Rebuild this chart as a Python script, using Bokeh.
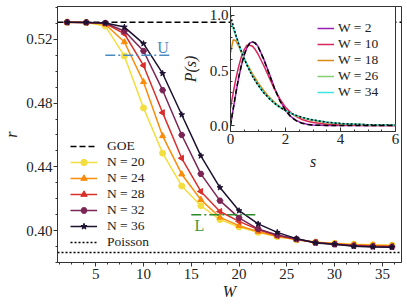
import math
from bokeh.plotting import figure
from bokeh.models import Legend, LegendItem, FixedTicker, Range1d, Label, PrintfTickFormatter
from bokeh.layouts import column
from bokeh.embed import file_html
from bokeh.resources import INLINE

FONT = "Liberation Serif, DejaVu Serif, serif"

# ---------------- main panel data ----------------
W = [2, 4, 6, 8, 10, 12, 14, 16, 18, 20, 22, 24, 26, 28, 30, 32, 34, 36]
r_N20 = [0.5307, 0.5305, 0.5283, 0.5096, 0.4770, 0.4486, 0.4280, 0.4156, 0.4069, 0.4023,
         0.3989, 0.3962, 0.3942, 0.3928, 0.3920, 0.3915, 0.3911, 0.3908]
r_N24 = [0.5307, 0.5305, 0.5295, 0.5183, 0.4933, 0.4594, 0.4354, 0.4194, 0.4083, 0.4031,
         0.3993, 0.3965, 0.3944, 0.3927, 0.3918, 0.3912, 0.3908, 0.3905]
r_N28 = [0.5307, 0.5305, 0.5300, 0.5235, 0.5036, 0.4740, 0.4454, 0.4246, 0.4120, 0.4058,
         0.4006, 0.3969, 0.3945, 0.3926, 0.3916, 0.3908, 0.3904, 0.3901]
r_N32 = [0.5307, 0.5306, 0.5302, 0.5252, 0.5127, 0.4881, 0.4600, 0.4356, 0.4188, 0.4080,
         0.4010, 0.3972, 0.3947, 0.3925, 0.3914, 0.3905, 0.3901, 0.3898]
r_N36 = [0.5307, 0.5306, 0.5303, 0.5277, 0.5173, 0.4986, 0.4727, 0.4469, 0.4270, 0.4125,
         0.4042, 0.3989, 0.3950, 0.3923, 0.3914, 0.3902, 0.3898, 0.3896]
N_labels = ["N = 20", "N = 24", "N = 28", "N = 32", "N = 36"]
N_colors = ["#f3de40", "#f98c0a", "#d8302c", "#7b2456", "#1c1130"]

GOE_R = 0.5307
POISSON_R = 0.3863
U_W = [6, 13]
U_R = 0.51
L_W = [15, 22]
L_R = 0.41

x_ticks = [5, 10, 15, 20, 25, 30, 35]
y_ticks = [0.40, 0.44, 0.48, 0.52]

# ---------------- inset data ----------------
s = [0, 0.1, 0.2, 0.3, 0.4, 0.5, 0.6, 0.7, 0.8, 0.9, 1.0, 1.2, 1.4, 1.6, 1.8, 2.0,
     2.2, 2.4, 2.6, 2.8, 3.0, 3.5, 4.0, 5.0, 6.0]
P_W2 = [0.0, 0.15, 0.30, 0.44, 0.55, 0.64, 0.71, 0.75, 0.76, 0.75, 0.72, 0.61, 0.48, 0.34,
        0.23, 0.14, 0.08, 0.045, 0.022, 0.011, 0.005, 0.001, 0.0, 0.0, 0.0]
P_W10 = [0.16, 0.30, 0.43, 0.54, 0.63, 0.69, 0.73, 0.73, 0.72, 0.69, 0.65, 0.55, 0.44, 0.33,
         0.24, 0.165, 0.115, 0.08, 0.055, 0.038, 0.027, 0.011, 0.005, 0.001, 0.0003]
P_W18 = [0.66, 0.78, 0.77, 0.72, 0.66, 0.61, 0.56, 0.515, 0.47, 0.43, 0.39, 0.32, 0.26, 0.21,
         0.17, 0.135, 0.108, 0.087, 0.07, 0.056, 0.045, 0.026, 0.015, 0.005, 0.0015]
P_W26 = [0.93, 0.88, 0.81, 0.74, 0.67, 0.61, 0.55, 0.50, 0.45, 0.41, 0.37, 0.30, 0.25, 0.20,
         0.165, 0.135, 0.11, 0.09, 0.074, 0.06, 0.049, 0.03, 0.018, 0.006, 0.002]
P_W34 = [0.96, 0.89, 0.815, 0.74, 0.67, 0.605, 0.55, 0.495, 0.45, 0.405, 0.368, 0.30, 0.247,
         0.202, 0.165, 0.135, 0.11, 0.09, 0.074, 0.061, 0.05, 0.03, 0.018, 0.0067, 0.0025]
P_GOE = [0.0, 0.1558, 0.3045, 0.4390, 0.5541, 0.6454, 0.7104, 0.7484, 0.7601, 0.7483, 0.7161,
         0.6083, 0.4717, 0.3366, 0.2219, 0.1358, 0.0772, 0.0409, 0.0202, 0.0093, 0.0040,
         0.0004, 0.0, 0.0, 0.0]
P_POI = [1.0, 0.905, 0.819, 0.741, 0.670, 0.607, 0.549, 0.497, 0.449, 0.407, 0.368, 0.301,
         0.247, 0.202, 0.165, 0.135, 0.111, 0.091, 0.074, 0.061, 0.050, 0.030, 0.018,
         0.0067, 0.0025]
W_labels = ["W = 2", "W = 10", "W = 18", "W = 26", "W = 34"]
W_colors = ["#9b1fb3", "#d8265c", "#d88a17", "#86cf72", "#3fe3e0"]

# ---------------- main figure ----------------
BL, BR = 57, 6          # left/right borders shared by both figures (column aligns them)
XMIN, XMAX = 1, 37
p = figure(width=407, height=307, x_range=Range1d(XMIN, XMAX), y_range=Range1d(0.38, 0.5406),
           output_backend="svg", toolbar_location=None,
           min_border_left=BL, min_border_right=BR, min_border_top=6, min_border_bottom=45)
p.xgrid.visible = False
p.ygrid.visible = False
p.outline_line_color = "#333333"
p.background_fill_color = "white"

for ax in (p.xaxis[0], p.yaxis[0]):
    ax.axis_line_color = "#333333"
    ax.major_tick_line_color = "#333333"
    ax.minor_tick_line_color = "#333333"
    ax.major_tick_in = 0
    ax.major_tick_out = 4
    ax.minor_tick_in = 0
    ax.minor_tick_out = 2
    ax.major_label_text_font = FONT
    ax.major_label_text_font_size = "15px"
    ax.major_label_text_color = "#222222"
    ax.axis_label_text_font = FONT
    ax.axis_label_text_font_size = "16px"
    ax.axis_label_text_font_style = "italic"
    ax.axis_label_text_color = "#222222"

p.xaxis.ticker = FixedTicker(ticks=x_ticks, minor_ticks=[1.25 * k for k in range(1, 30)])
p.yaxis.ticker = FixedTicker(ticks=y_ticks, minor_ticks=[0.38 + 0.01 * k for k in range(0, 17)])
p.yaxis.formatter = PrintfTickFormatter(format="%.2f")
p.xaxis.axis_label = "W"
p.yaxis.axis_label = "r"
p.xaxis.major_label_standoff = 2
p.xaxis.axis_label_standoff = 1
p.yaxis.major_label_standoff = 1
p.yaxis.axis_label_standoff = 3

goe = p.line([XMIN, XMAX], [GOE_R, GOE_R], line_color="black", line_dash="6 3", line_width=1.5)
poi = p.line([XMIN, XMAX], [POISSON_R, POISSON_R], line_color="black", line_dash="2 2", line_width=1.5)

markers = ["circle", "triangle", "triangle", "hex", "star"]
angles = [0, 0, math.pi / 2, 0, 0]
series = [r_N20, r_N24, r_N28, r_N32, r_N36]
items = [LegendItem(label="GOE", renderers=[goe])]
for lab, col, mk, ang, ys in zip(N_labels, N_colors, markers, angles, series):
    ln = p.line(W, ys, line_color=col, line_width=1.5)
    sc = p.scatter(W, ys, marker=mk, angle=ang, size=6, fill_color=col, line_color=col)
    items.append(LegendItem(label=lab, renderers=[ln, sc]))
items.append(LegendItem(label="Poisson", renderers=[poi]))

p.line(U_W, [U_R, U_R], line_color="#4a8cc2", line_dash="10 3 2 3", line_width=1.5)
p.line(L_W, [L_R, L_R], line_color="#2a8a2a", line_dash="10 3 2 3", line_width=1.5)
p.add_layout(Label(x=12.05, y=0.5148, text="U", text_align="center", text_baseline="middle",
                   text_color="#4a8cc2", text_font=FONT, text_font_size="16px"))
p.add_layout(Label(x=15.85, y=0.4031, text="L", text_align="center", text_baseline="middle",
                   text_color="#3a9a3a", text_font=FONT, text_font_size="16px"))

leg = Legend(items=items, location=(13, 12), padding=0, margin=0, spacing=0,
             glyph_width=27, glyph_height=16, label_height=16, label_standoff=10,
             label_text_font=FONT, label_text_font_size="13.5px", label_text_color="#222222",
             border_line_alpha=0, background_fill_alpha=0)
p.add_layout(leg, "center")

# ---------------- inset figure ----------------
ins = figure(width=BL + 165 + BR, height=173, x_range=Range1d(0, 6),
             y_range=Range1d(-0.0545, 1.0818),
             output_backend="svg", toolbar_location=None,
             min_border_left=BL, min_border_right=BR, min_border_top=6, min_border_bottom=42)
ins.styles = {"position": "absolute", "left": f"{230 - BL}px", "top": "0px", "z-index": "10"}
ins.border_fill_alpha = 0
ins.background_fill_color = "white"
ins.outline_line_color = "#333333"
ins.xgrid.visible = False
ins.ygrid.visible = False
for ax in (ins.xaxis[0], ins.yaxis[0]):
    ax.axis_line_color = "#333333"
    ax.major_tick_line_color = "#333333"
    ax.minor_tick_line_color = "#333333"
    ax.major_tick_in = 4
    ax.major_tick_out = 0
    ax.minor_tick_in = 2
    ax.minor_tick_out = 0
    ax.major_label_text_font = FONT
    ax.major_label_text_font_size = "15px"
    ax.major_label_text_color = "#222222"
    ax.axis_label_text_font = FONT
    ax.axis_label_text_font_size = "16px"
    ax.axis_label_text_font_style = "italic"
    ax.axis_label_text_color = "#222222"
ins.xaxis.ticker = FixedTicker(ticks=[0, 2, 4, 6], minor_ticks=[0.5 * k for k in range(0, 13)])
ins.yaxis.ticker = FixedTicker(ticks=[0.0, 0.5, 1.0], minor_ticks=[0.1 * k for k in range(0, 11)])
ins.yaxis.formatter = PrintfTickFormatter(format="%.1f")
ins.xaxis.axis_label = "s"
ins.yaxis.axis_label = "P(s)"
ins.xaxis.major_label_standoff = 2
ins.xaxis.axis_label_standoff = 6
ins.yaxis.major_label_standoff = 2
ins.yaxis.axis_label_standoff = 8

ins_items = []
for lab, col, ys in zip(W_labels, W_colors, [P_W2, P_W10, P_W18, P_W26, P_W34]):
    ln = ins.line(s, ys, line_color=col, line_width=1.5)
    ins_items.append(LegendItem(label=lab, renderers=[ln]))
ins.line(s, P_GOE, line_color="black", line_dash="5 3", line_width=1.5)
ins.line(s, P_POI, line_color="black", line_dash="2 2", line_width=1.5)

ileg = Legend(items=ins_items, location=(87, 31), padding=0, margin=0, spacing=0,
              glyph_width=17, glyph_height=16, label_height=16, label_standoff=4,
              label_text_font=FONT, label_text_font_size="13.5px", label_text_color="#222222",
              border_line_alpha=0, background_fill_alpha=0)
ins.add_layout(ileg, "center")

layout = column(p, ins)
open("out.html", "w").write(file_html(layout, INLINE))
